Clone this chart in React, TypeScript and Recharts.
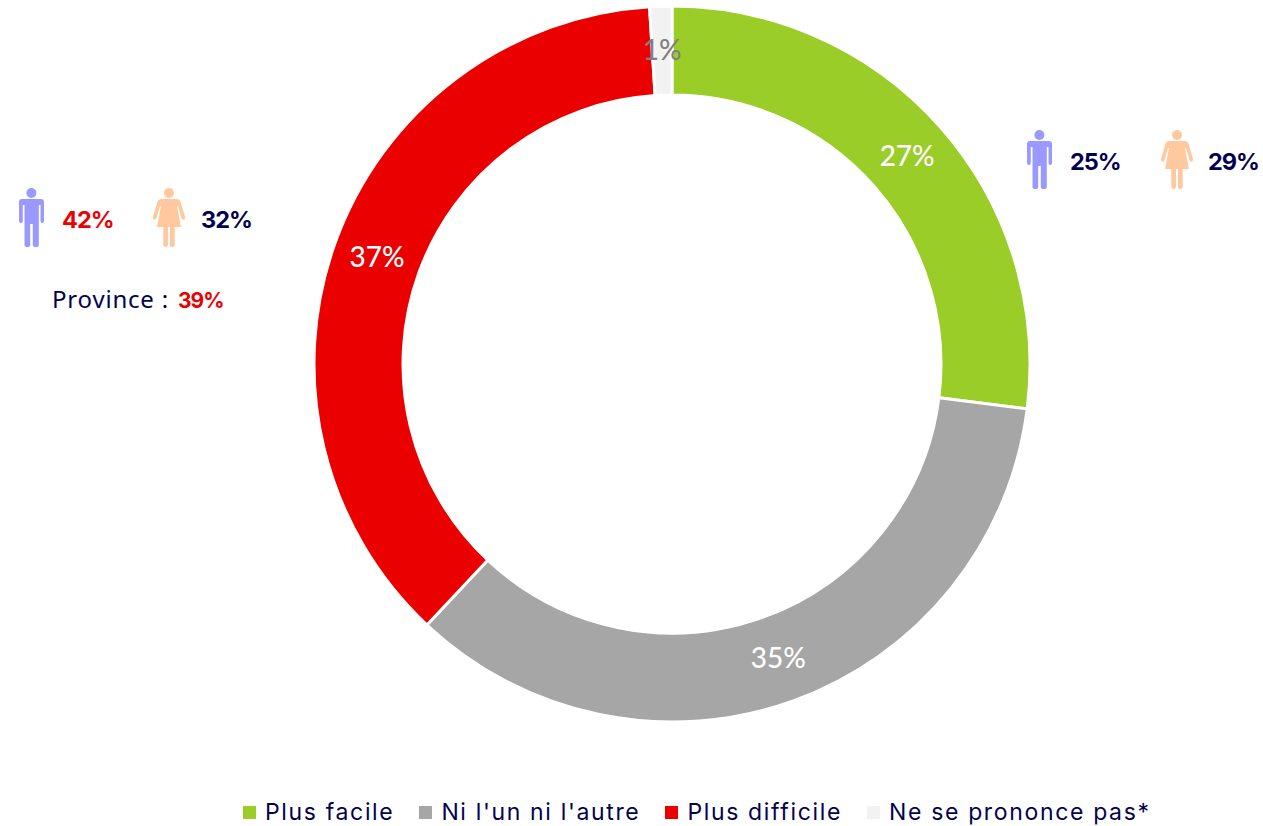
import { PieChart, Pie, Cell, Legend } from 'recharts';

const categories = ['Plus facile', "Ni l'un ni l'autre", 'Plus difficile', 'Ne se prononce pas*'];
const shares = [27, 35, 37, 1];
const sliceColors = ['#9ACD28', '#A6A6A6', '#EB0000', '#F2F2F2'];
const labelColors = ['#FFFFFF', '#FFFFFF', '#FFFFFF', '#7F7F7F'];

const NAVY = '#03024F';
const RED = '#EB0000';
const TEXT_FONT = '"Noto Sans", sans-serif';

const data = categories.map((name, i) => ({ name, value: shares[i] }));

const RADIAN = Math.PI / 180;

function SliceLabel({ cx, cy, midAngle, innerRadius, outerRadius, index, value }: any) {
  const r = (innerRadius + outerRadius) / 2;
  return (
    <text
      x={cx + r * Math.cos(-midAngle * RADIAN)}
      y={cy + r * Math.sin(-midAngle * RADIAN) - 2}
      fill={labelColors[index]}
      textAnchor="middle"
      dominantBaseline="central"
      fontFamily="Lato, sans-serif"
      fontWeight={500}
      fontSize={28}
    >
      {value}%
    </text>
  );
}

function LegendRow({ payload }: any) {
  return (
    <div style={{ display: 'flex', fontFamily: 'Inter, sans-serif', fontSize: 23, letterSpacing: 1.65, lineHeight: '26px', color: NAVY, whiteSpace: 'nowrap' }}>
      {(payload || []).map((item: any) => (
        <div key={item.value} style={{ display: 'flex', alignItems: 'center', marginRight: 25 }}>
          <span style={{ width: 13, height: 13, marginRight: 9, background: item.color }} />
          <span>{item.value}</span>
        </div>
      ))}
    </div>
  );
}

function ManIcon({ left, top }: { left: number; top: number }) {
  return (
    <svg width={28} height={60} viewBox="0 0 28 60" style={{ position: 'absolute', left, top }}>
      <g fill="#9999FF">
        <circle cx={13.4} cy={5} r={5} />
        <path d="M4 11 H22.8 Q26 11 26 14 V33 Q26 35 24.3 35 Q22.5 35 22.5 33 V17 H20.8 V57 Q20.8 59 18 59 Q14.8 59 14.8 57 V36 H12.2 V57 Q12.2 59 9.4 59 Q6.5 59 6.5 57 V17 H4.8 V33 Q4.8 35 3 35 Q1 35 1 33 V14 Q1 11 4 11 Z" />
      </g>
    </svg>
  );
}

function WomanIcon({ left, top }: { left: number; top: number }) {
  return (
    <svg width={34} height={60} viewBox="0 0 34 60" style={{ position: 'absolute', left, top }}>
      <g fill="#FFC89E">
        <circle cx={16} cy={5} r={5} />
        <path d="M8 11 H24 Q26.5 11 27.5 13.5 L32 29 Q32.5 31 30.8 31.7 Q29 32 28.5 30 L25 18 L24 18 L28 39 H21.7 V57 Q21.7 59 19.2 59 Q16.9 59 16.9 57 V39 H15 V57 Q15 59 12.6 59 Q10.3 59 10.3 57 V39 H4 L8 18 L7 18 L3.5 30 Q3 32 1.2 31.7 Q-0.5 31 0 29 L4.5 13.5 Q5.5 11 8 11 Z" />
      </g>
    </svg>
  );
}

function Pct({ left, top, color, children }: { left: number; top: number; color: string; children: string }) {
  return (
    <div
      style={{
        position: 'absolute',
        left,
        top,
        color,
        fontFamily: 'Inter, sans-serif',
        fontWeight: 700,
        fontSize: 23.5,
        letterSpacing: -1,
        lineHeight: '30px',
        whiteSpace: 'nowrap',
      }}
    >
      {children}
    </div>
  );
}

export default function App() {
  return (
    <div style={{ position: 'absolute', left: 0, top: 0, width: 1263, height: 826, overflow: 'hidden', background: '#fff' }}>
      <PieChart width={1263} height={826} margin={{ top: 0, right: 0, bottom: 0, left: 0 }}>
        <Pie
          data={data}
          dataKey="value"
          nameKey="name"
          cx={672}
          cy={364}
          innerRadius={269}
          outerRadius={358}
          startAngle={90}
          endAngle={-270}
          stroke="#FFFFFF"
          strokeWidth={3}
          label={SliceLabel}
          labelLine={false}
          isAnimationActive={false}
        >
          {data.map((d, i) => (
            <Cell key={d.name} fill={sliceColors[i]} />
          ))}
        </Pie>
        <Legend
          itemSorter={null}
          content={LegendRow}
          wrapperStyle={{ left: 243, bottom: 1, width: 1000 }}
        />
      </PieChart>

      <ManIcon left={1026} top={130} />
      <Pct left={1070} top={147} color={NAVY}>25%</Pct>
      <WomanIcon left={1161} top={130} />
      <Pct left={1208} top={147} color={NAVY}>29%</Pct>

      <ManIcon left={18} top={188} />
      <Pct left={62} top={205} color={RED}>42%</Pct>
      <WomanIcon left={153} top={188} />
      <Pct left={201} top={205} color={NAVY}>32%</Pct>

      <div style={{ position: 'absolute', left: 52, top: 284, fontFamily: TEXT_FONT, fontSize: 24, letterSpacing: 0.8, lineHeight: '30px', color: NAVY, whiteSpace: 'nowrap' }}>
        Province : <span style={{ marginLeft: 2, fontFamily: 'Inter, sans-serif', fontWeight: 700, fontSize: 21, letterSpacing: -1, color: RED }}>39%</span>
      </div>
    </div>
  );
}
